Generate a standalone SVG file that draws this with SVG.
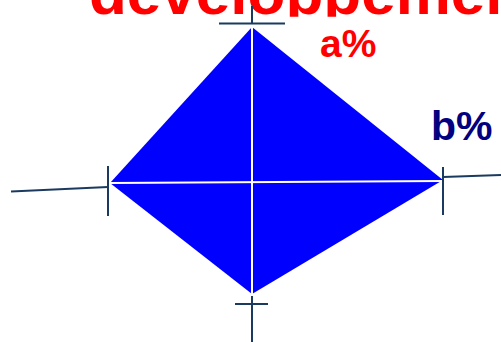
<svg xmlns="http://www.w3.org/2000/svg" width="501" height="342" viewBox="0 0 501 342">
  <style>
    .axis { stroke: #1B3A60; stroke-width: 2; fill: none; }
    .cross { stroke: #FFFFFF; stroke-width: 2; fill: none; }
    .lbl { font-family: "Liberation Sans", Arial, sans-serif; font-weight: bold; }
  </style>
  <defs>
    <clipPath id="titleClip">
      <rect x="0" y="0" width="501" height="16.8"/>
    </clipPath>
  </defs>
  <rect x="0" y="0" width="501" height="342" fill="#FFFFFF"/>
  <g id="title" clip-path="url(#titleClip)">
    <text class="lbl" x="89" y="13.5" font-size="62" fill="#FF0000">développement</text>
  </g>
  <g id="diamond">
    <polygon points="252,27 443,180 252,294 110,183" fill="#0000FF"/>
    <line class="cross" x1="252" y1="27" x2="252" y2="294"/>
    <line class="cross" x1="110" y1="183" x2="443" y2="181"/>
  </g>
  <g id="connectors">
    <line class="axis" x1="252" y1="6" x2="252" y2="24"/>
    <line class="axis" x1="219" y1="23.5" x2="285" y2="23.5"/>
    <line class="axis" x1="108" y1="166" x2="108" y2="216"/>
    <line class="axis" x1="11" y1="191.5" x2="108" y2="187"/>
    <line class="axis" x1="443" y1="167" x2="443" y2="215"/>
    <line class="axis" x1="443" y1="177" x2="501" y2="175"/>
    <line class="axis" x1="235" y1="304" x2="268" y2="304"/>
    <line class="axis" x1="252" y1="296" x2="252" y2="342"/>
  </g>
  <g id="label-a">
    <text class="lbl" x="320" y="57" font-size="39" fill="#FF0000">a%</text>
  </g>
  <g id="label-b">
    <text class="lbl" x="431" y="140" font-size="41" fill="#000080">b%</text>
  </g>
</svg>
